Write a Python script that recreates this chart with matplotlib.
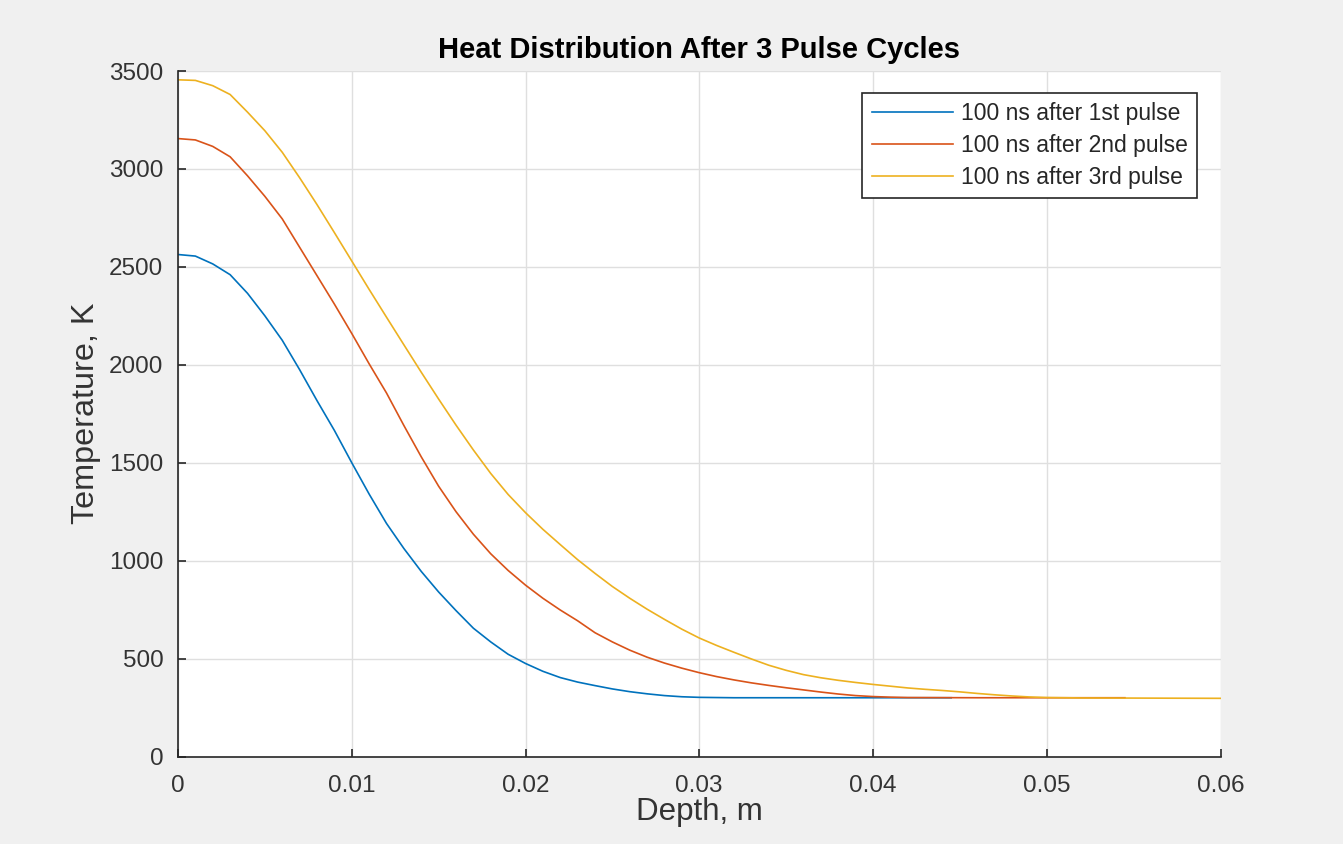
import matplotlib
matplotlib.use("Agg")
import matplotlib.pyplot as plt

# Temperature profiles: depth in m, temperature in K
depth_1 = [0, 0.001, 0.002, 0.003, 0.004, 0.005, 0.006, 0.007, 0.008, 0.009,
           0.010, 0.011, 0.012, 0.013, 0.014, 0.015, 0.016, 0.017, 0.018, 0.019,
           0.020, 0.021, 0.022, 0.023, 0.024, 0.025, 0.026, 0.027, 0.028, 0.029,
           0.030, 0.032, 0.0445]
temp_1 = [2563, 2555, 2515, 2460, 2365, 2250, 2125, 1975, 1817, 1665,
          1500, 1340, 1190, 1062, 945, 840, 745, 655, 585, 522,
          475, 435, 403, 380, 362, 345, 331, 320, 311, 305,
          302, 300, 300]

depth_2 = [0, 0.001, 0.002, 0.003, 0.004, 0.005, 0.006, 0.007, 0.008, 0.009,
           0.010, 0.011, 0.012, 0.013, 0.014, 0.015, 0.016, 0.017, 0.018, 0.019,
           0.020, 0.021, 0.022, 0.023, 0.024, 0.025, 0.026, 0.027, 0.028, 0.029,
           0.030, 0.031, 0.032, 0.033, 0.034, 0.035, 0.036, 0.037, 0.038, 0.039,
           0.040, 0.041, 0.042, 0.046, 0.0545]
temp_2 = [3155, 3148, 3115, 3062, 2965, 2860, 2745, 2600, 2455, 2310,
          2160, 2005, 1856, 1690, 1530, 1380, 1250, 1135, 1035, 950,
          875, 808, 748, 693, 632, 585, 543, 507, 477, 451,
          428, 408, 391, 376, 363, 351, 340, 329, 319, 311,
          306, 303, 301, 300, 300]

depth_3 = [0, 0.001, 0.002, 0.003, 0.004, 0.005, 0.006, 0.007, 0.008, 0.009,
           0.010, 0.011, 0.012, 0.013, 0.014, 0.015, 0.016, 0.017, 0.018, 0.019,
           0.020, 0.021, 0.022, 0.023, 0.024, 0.025, 0.026, 0.027, 0.028, 0.029,
           0.030, 0.031, 0.032, 0.033, 0.034, 0.035, 0.036, 0.037, 0.038, 0.039,
           0.040, 0.041, 0.042, 0.043, 0.044, 0.045, 0.046, 0.047, 0.048, 0.049,
           0.050, 0.052, 0.060]
temp_3 = [3455, 3452, 3425, 3380, 3290, 3195, 3085, 2955, 2818, 2675,
          2530, 2385, 2243, 2102, 1962, 1825, 1692, 1565, 1445, 1338,
          1245, 1160, 1082, 1005, 935, 868, 808, 752, 700, 650,
          605, 567, 532, 498, 466, 440, 418, 402, 389, 378,
          368, 359, 350, 343, 337, 330, 322, 315, 309, 304,
          301, 299, 297]

labels = ["100 ns after 1st pulse", "100 ns after 2nd pulse", "100 ns after 3rd pulse"]
colors = ["#0072BD", "#D95319", "#EDB120"]

x_ticks = [0, 0.01, 0.02, 0.03, 0.04, 0.05, 0.06]
x_ticklabels = ["0", "0.01", "0.02", "0.03", "0.04", "0.05", "0.06"]
y_ticks = [0, 500, 1000, 1500, 2000, 2500, 3000, 3500]

plt.rcParams["font.family"] = ["Liberation Sans", "DejaVu Sans"]

W, H = 1343, 844
fig = plt.figure(figsize=(W / 100, H / 100), dpi=100, facecolor="#F0F0F0")
ax = fig.add_axes([178 / W, (H - 756.5) / H, (1220.5 - 178) / W, (756.5 - 71) / H])
ax.set_facecolor("white")

for d, t, lab, c in zip([depth_1, depth_2, depth_3], [temp_1, temp_2, temp_3], labels, colors):
    ax.plot(d, t, color=c, lw=1.2, label=lab)

ax.set_xlim(0, 0.06)
ax.set_ylim(0, 3500)
ax.set_xticks(x_ticks)
ax.set_xticklabels(x_ticklabels)
ax.set_yticks(y_ticks)

dark = "#262626"
txt = "#333333"
ax.grid(True, color="#DFDFDF", lw=1.0)
ax.set_axisbelow(True)
for s in ["top", "right"]:
    ax.spines[s].set_visible(False)
for s in ["left", "bottom"]:
    ax.spines[s].set_color(dark)
    ax.spines[s].set_linewidth(1.2)
ax.tick_params(direction="in", length=6, width=1.2, color=dark, labelcolor=txt,
               labelsize=17.5)
ax.tick_params(axis="x", pad=13)
ax.tick_params(axis="y", pad=10.5)

ax.set_xlabel("Depth, m", fontsize=22.5, color=txt, labelpad=0)
ax.set_ylabel("Temperature, K", fontsize=23.3, color=txt, labelpad=6)
ax.set_title("Heat Distribution After 3 Pulse Cycles", fontsize=21, fontweight="bold",
             color="black", pad=9)

leg = ax.legend(loc="upper right", bbox_to_anchor=(1 - 23.5 / 1042.5, 1 - 22 / 685.5),
                fontsize=16.5, frameon=True, fancybox=False, handlelength=3.55,
                handletextpad=0.35, borderpad=0.4, labelspacing=0.38, borderaxespad=0)
frame = leg.get_frame()
frame.set_edgecolor(dark)
frame.set_linewidth(1.2)
frame.set_facecolor("white")
frame.set_alpha(1)
for t in leg.get_texts():
    t.set_color(dark)

fig.savefig("out.png", dpi=100, facecolor=fig.get_facecolor())
